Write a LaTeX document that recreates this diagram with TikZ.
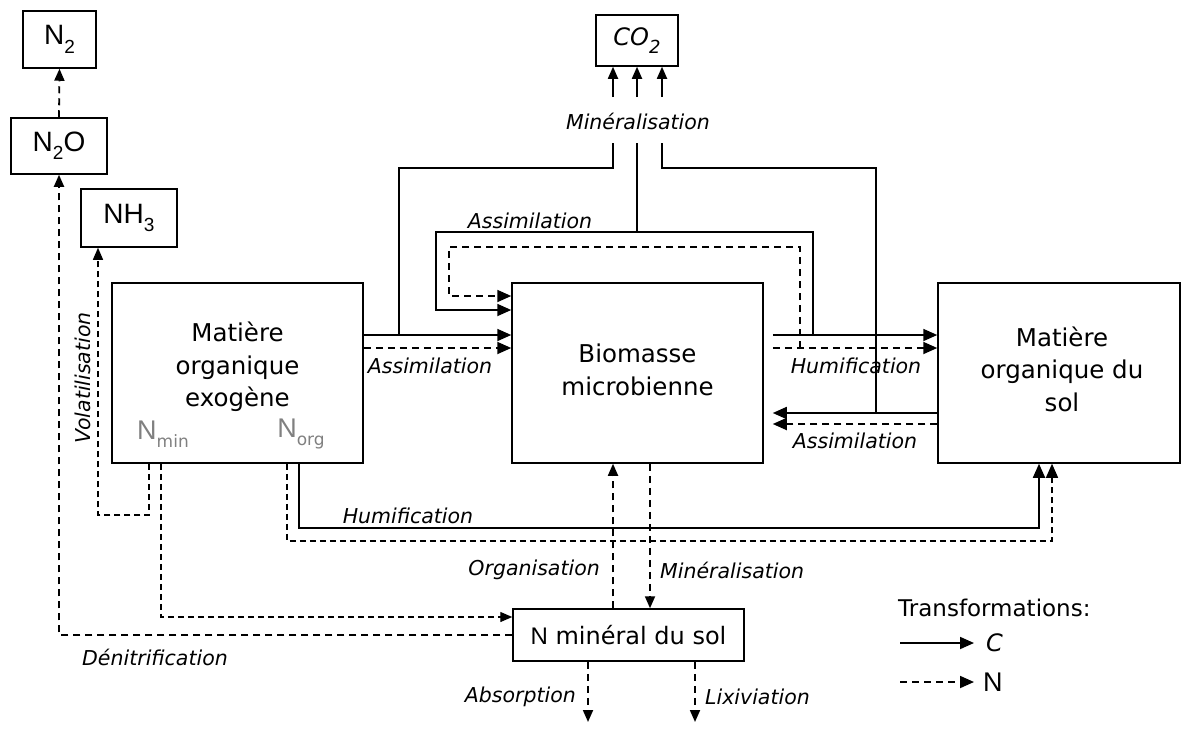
\documentclass[tikz,border=0pt]{standalone}
\usepackage{fontspec}
\setmainfont{DejaVu Sans}
\newfontfamily\arialf{Liberation Sans}
\usetikzlibrary{arrows.meta}
\newcommand{\lowidx}[2][19]{\raisebox{-0.3em}{\fontsize{#1}{#1}\selectfont #2}}
\begin{document}
\begin{tikzpicture}[x=1pt,y=-1pt,
  box/.style={draw,line width=1.5pt,inner sep=0pt,align=center},
  big/.style={font=\fontsize{24.5}{32.5}\selectfont,align=center,inner sep=0pt},
  gas/.style={font=\arialf\fontsize{28}{30}\selectfont},
  cl/.style={line width=1.8pt},
  nl/.style={line width=1.8pt,dash pattern=on 7pt off 5pt},
  nthin/.style={line width=1.3pt,dash pattern=on 6pt off 4pt},
  tip/.style={-{Triangle[length=14pt,width=12pt]}},
  stip/.style={-{Triangle[length=12pt,width=10pt]}},
  lab/.style={font=\fontsize{20.5}{24}\selectfont\itshape,inner sep=0pt},
  gr/.style={text=black!50,inner sep=0pt}
]
\useasboundingbox (0,0) rectangle (1182,731);

% boxes
\node[box,gas,minimum width=73pt,minimum height=57pt] (n2) at (59.5,39.5) {N\lowidx{2}};
\node[box,gas,minimum width=96pt,minimum height=56pt] (n2o) at (59,146) {N\lowidx{2}O};
\node[box,gas,minimum width=96pt,minimum height=58pt] (nh3) at (129,218) {NH\lowidx{3}};
\node[box,minimum width=82pt,minimum height=51pt,font=\fontsize{24}{28}\selectfont\itshape] (co2) at (637,40.5) {CO\lowidx[18]{2}};
\node[box,minimum width=251pt,minimum height=180pt] (exo) at (237.5,373) {};
\node[box,minimum width=251pt,minimum height=180pt] (bio) at (637.5,373) {};
\node[box,minimum width=242pt,minimum height=180pt] (mos) at (1059,373) {};
\node[box,minimum width=231pt,minimum height=52pt,font=\fontsize{24}{26}\selectfont] (nmin) at (628.5,635) {{\arialf N} minéral du sol};

% box texts
\node[big] (texo) at (exo.center |- 0,367) {Matière\\organique\\exogène};
\node[big] (tbio) at (bio.center |- 0,370) {Biomasse\\microbienne};
\node[big] (tmos) at (1062,369) {Matière\\organique du\\sol};

% Nmin / Norg
\node[gr,font=\fontsize{27}{27}\selectfont] (tmin) at (163,434) {{\arialf N}\lowidx[17]{min}};
\node[gr,font=\fontsize{27}{27}\selectfont] (torg) at (301,434) {{\arialf N}\lowidx[17]{org}};

% gaseous losses
\draw[nl,stip] (n2o.north) -- (n2.south);
\draw[nl,stip] (nmin.west) -| (n2o.south);
\draw[nthin,stip] (exo.south -| 149,0) |- (98,515) -- (nh3.south -| 98,0);
\draw[nthin,stip] (exo.south -| 161,0) |- (nmin.west |- 0,617);

% humification exo -> mos
\draw[cl,tip] (exo.south -| 299,0) |- (1039,528) -- (mos.south -| 1039,0);
\draw[nthin,tip] (exo.south -| 287,0) |- (1052,541) -- (mos.south -| 1052,0);

% assimilation exo -> bio
\draw[cl,tip] (exo.east |- 0,335) -- (bio.west |- 0,335);
\draw[nl,tip] (exo.east |- 0,348) -- (bio.west |- 0,348);

% assimilation loop
\draw[cl,tip] (813,335) |- (436,232) |- (bio.west |- 0,310);
\draw[nl,tip] (800,348) |- (449,247) |- (bio.west |- 0,296);

% bio <-> mos
\coordinate (bioR) at ([xshift=9pt]bio.east);
\draw[cl,tip] (bioR |- 0,335) -- (mos.west |- 0,335);
\draw[nl,tip] (bioR |- 0,348) -- (mos.west |- 0,348);
\draw[cl,tip] (mos.west |- 0,413) -- (bioR |- 0,413);
\draw[nl,tip] (mos.west |- 0,424) -- (bioR |- 0,424);

% mineralisation C
\draw[cl] (399,335) |- (613,168) -- (613,143);
\draw[cl] (637,232) -- (637,143);
\draw[cl] (876,413) |- (662,168) -- (662,143);
\draw[cl,stip] (613,97) -- (co2.south -| 613,0);
\draw[cl,stip] (637,97) -- (co2.south -| 637,0);
\draw[cl,stip] (662,97) -- (co2.south -| 662,0);

% N mineral exchanges
\draw[nl,stip] (nmin.north -| 613,0) -- (bio.south -| 613,0);
\draw[nl,stip] (bio.south -| 650,0) -- (nmin.north -| 650,0);
\coordinate (abs) at (588,722);
\coordinate (lix) at (695,722);
\draw[nl,stip] (nmin.south -| abs) -- (abs);
\draw[nl,stip] (nmin.south -| lix) -- (lix);

% labels
\node[lab] at (638,121) {Minéralisation};
\node[lab] at (530,221) {Assimilation};
\node[lab] at (430,366) {Assimilation};
\node[lab] at (856,366) {Humification};
\node[lab] at (855,441) {Assimilation};
\node[lab] at (408,516) {Humification};
\node[lab,rotate=90] at (83,378) {Volatilisation};
\node[lab] at (155,657) {Dénitrification};
\node[lab,anchor=east] at (600,570) {Organisation};
\node[lab,anchor=west] at (660,570) {Minéralisation};
\node[lab,anchor=east] at (576,697) {Absorption};
\node[lab,anchor=west] at (705,697) {Lixiviation};

% legend
\node[font=\fontsize{23}{26}\selectfont,anchor=west,inner sep=0pt] (leg) at (898,608) {Transformations:};
\coordinate (lc1) at (900,643);
\coordinate (lc2) at (974,643);
\coordinate (ln1) at (900,682);
\coordinate (ln2) at (974,682);
\draw[cl,tip] (lc1) -- (lc2);
\draw[nl,tip] (ln1) -- (ln2);
\node[font=\fontsize{24}{24}\selectfont\itshape,anchor=west,inner sep=0pt] at (986,643) {C};
\node[font=\arialf\fontsize{27}{27}\selectfont,anchor=west,inner sep=0pt] at (983,682) {N};
\end{tikzpicture}
\end{document}
